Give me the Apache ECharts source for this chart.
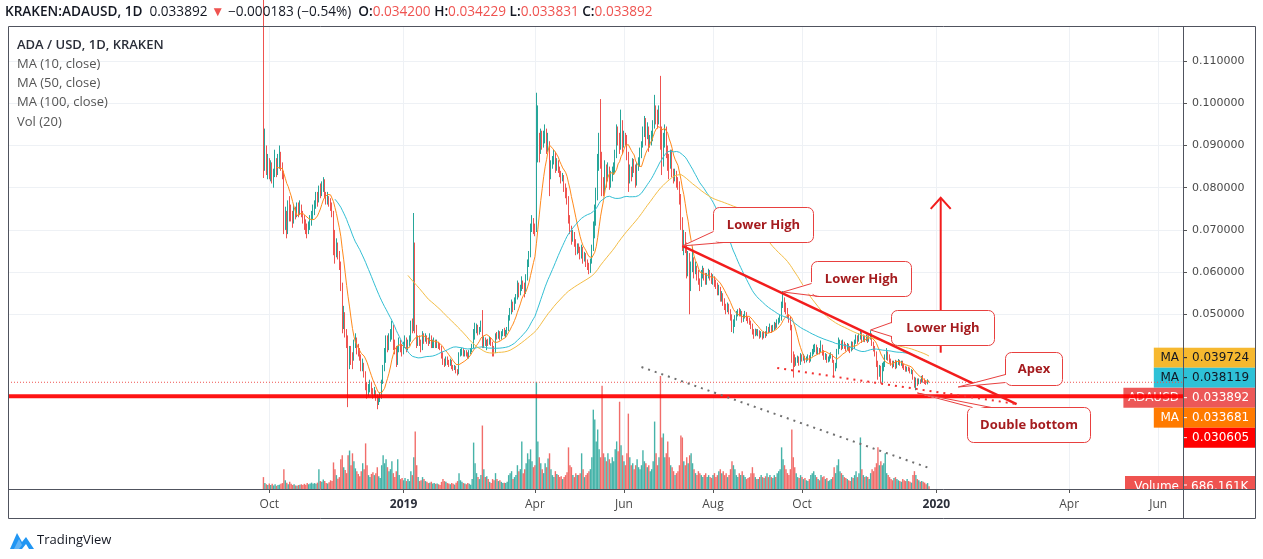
<!DOCTYPE html>
<html>
<head>
<meta charset="utf-8">
<script src="https://cdn.jsdelivr.net/npm/echarts@6/dist/echarts.min.js"></script>
<style>
html,body{margin:0;padding:0;background:#fff;}
#chart{width:1263px;height:559px;}
</style>
</head>
<body>
<div id="chart"></div>
<script>
// ---------------- DATA ----------------
const startDate = '2018-09-27';          // first daily candle
const viewStart = '2018-04-05';          // left edge of visible time range
const viewEnd = '2020-06-18';            // right edge of visible time range

const tickDates = ['2018-10-01','2019-01-01','2019-04-01','2019-06-01','2019-08-01','2019-10-01','2020-01-01','2020-04-01','2020-06-01'];
const tickLabels = ['Oct','2019','Apr','Jun','Aug','Oct','2020','Apr','Jun'];
const priceTicks = [0.05,0.06,0.07,0.08,0.09,0.10,0.11];

const open = [
.118,.085,.089,.0845,
.086,.0835,.085,.082,.083,.086,.084,.0855,.0875,.085,.0835,.072,.0735,.070,.0755,.0745,.0735,.072,.0745,.0735,.075,.074,.0755,.074,.0725,.0715,.0705,.0695,.071,.072,.0735,
.0745,.076,.0775,.077,.0795,.079,.0805,.0815,.0785,.077,.0775,.0765,.076,.074,.0665,.065,.0665,.064,.062,.057,.048,.050,.0455,.044,.0395,.041,.040,.0395,.043,.044,
.042,.041,.040,.0375,.038,.036,.033,.0315,.0325,.033,.032,.031,.0318,.0302,.0293,.0298,.0305,.034,.037,.039,.044,.042,.0445,.045,.047,.0425,.042,.0385,.0415,.043,.042,
.041,.0425,.044,.042,.043,.044,.047,.0465,.048,.0465,.043,.044,.0435,.042,.045,.044,.0445,.044,.0432,.0445,.0425,.043,.0435,.0425,.043,.0425,.042,.0405,.039,.0382,.0395,
.0388,.0382,.0388,.0375,.0372,.0374,.0366,.0362,.0405,.041,.0415,.0405,.041,.0405,.040,.041,.0415,.0425,.0455,.0465,.047,.0455,.0462,.048,.0425,.044,.0432,.0435,
.043,.044,.0432,.0418,.041,.045,.0448,.0455,.0445,.0455,.046,.0452,.0458,.0462,.049,.0505,.0525,.0515,.053,.054,.057,.055,.056,.0575,.057,.055,.0585,.062,.064,.070,.072,
.0705,.070,.088,.0915,.089,.0925,.0905,.092,.0935,.0895,.0905,.084,.0855,.0865,.088,.0845,.086,.0845,.0835,.082,.0825,.080,.079,.077,.0725,.070,.068,.069,.067,.065,
.066,.0655,.064,.065,.063,.064,.062,.0615,.061,.0625,.0655,.070,.0725,.078,.085,.0895,.087,.081,.079,.085,.083,.0845,.081,.0825,.0835,.0845,.0875,.093,.092,.090,.095,
.091,.092,.0915,.088,.082,.084,.083,.086,.085,.081,.085,.086,.088,.090,.093,.095,.093,.094,.090,.091,.092,.095,.0985,.0975,.096,.098,.093,.086,.091,.0935,
.0885,.087,.085,.088,.0835,.082,.083,.0815,.081,.0775,.072,.0665,.069,.066,.060,.064,.0575,.0615,.062,.060,.061,.0595,.058,.057,.0595,.0605,.059,.058,.059,.060,.0585,
.058,.0585,.0575,.057,.0555,.056,.054,.0545,.053,.052,.051,.052,.0508,.0495,.047,.048,.049,.050,.0505,.050,.0505,.049,.0495,.050,.049,.0485,.048,.0472,.046,.0455,.046,
.0455,.0458,.045,.0455,.0448,.0455,.045,.0465,.0462,.047,.0462,.0468,.0475,.0472,.048,.0485,.049,.052,.053,.0522,.051,.0495,.049,.047,.0405,.0395,.0385,.039,.0395,.0385,
.040,.0395,.040,.039,.0395,.040,.0392,.0405,.041,.0418,.042,.041,.0415,.0412,.0425,.041,.0398,.0402,.0392,.0395,.040,.0402,.039,.0372,.0378,.041,.0425,.0432,.042,.0432,.0425,
.042,.0425,.042,.0415,.043,.0422,.0435,.0445,.0438,.0448,.0455,.044,.0446,.044,.0445,.0438,.0444,.045,.0432,.042,.041,.0385,.036,.0372,.035,.0375,.038,.0398,.0405,.0402,
.039,.0385,.038,.0384,.0376,.0385,.0388,.0384,.0386,.0378,.0374,.037,.0372,.037,.0364,.0366,.035,.0332,.0345,.0338,.0343,.034,.035,.0344,.034,.0337,.0342
];

const close = [
.085,.089,.0845,.086,
.0835,.085,.082,.083,.086,.084,.0855,.0875,.085,.0835,.072,.0735,.070,.0755,.0745,.0735,.072,.0745,.0735,.075,.074,.0755,.074,.0725,.0715,.0705,.0695,.071,.072,.0735,.0745,
.076,.0775,.077,.0795,.079,.0805,.0815,.0785,.077,.0775,.0765,.076,.074,.0665,.065,.0665,.064,.062,.057,.048,.050,.0455,.044,.0395,.041,.040,.0395,.043,.044,.042,
.041,.040,.0375,.038,.036,.033,.0315,.0325,.033,.032,.031,.0318,.0302,.0293,.0298,.0305,.034,.037,.039,.044,.042,.0445,.045,.047,.0425,.042,.0385,.0415,.043,.042,.041,
.0425,.044,.042,.043,.044,.047,.0465,.048,.0465,.043,.044,.0435,.042,.045,.044,.0445,.044,.0432,.0445,.0425,.043,.0435,.0425,.043,.0425,.042,.0405,.039,.0382,.0395,.0388,
.0382,.0388,.0375,.0372,.0374,.0366,.0362,.0405,.041,.0415,.0405,.041,.0405,.040,.041,.0415,.0425,.0455,.0465,.047,.0455,.0462,.048,.0425,.044,.0432,.0435,.043,
.044,.0432,.0418,.041,.045,.0448,.0455,.0445,.0455,.046,.0452,.0458,.0462,.049,.0505,.0525,.0515,.053,.054,.057,.055,.056,.0575,.057,.055,.0585,.062,.064,.070,.072,.0705,
.070,.088,.0915,.089,.0925,.0905,.092,.0935,.0895,.0905,.084,.0855,.0865,.088,.0845,.086,.0845,.0835,.082,.0825,.080,.079,.077,.0725,.070,.068,.069,.067,.065,.066,
.0655,.064,.065,.063,.064,.062,.0615,.061,.0625,.0655,.070,.0725,.078,.085,.0895,.087,.081,.079,.085,.083,.0845,.081,.0825,.0835,.0845,.0875,.093,.092,.090,.095,.091,
.092,.0915,.088,.082,.084,.083,.086,.085,.081,.085,.086,.088,.090,.093,.095,.093,.094,.090,.091,.092,.095,.0985,.0975,.096,.098,.093,.086,.091,.0935,.0885,
.087,.085,.088,.0835,.082,.083,.0815,.081,.0775,.072,.0665,.069,.066,.060,.064,.0575,.0615,.062,.060,.061,.0595,.058,.057,.0595,.0605,.059,.058,.059,.060,.0585,.058,
.0585,.0575,.057,.0555,.056,.054,.0545,.053,.052,.051,.052,.0508,.0495,.047,.048,.049,.050,.0505,.050,.0505,.049,.0495,.050,.049,.0485,.048,.0472,.046,.0455,.046,.0455,
.0458,.045,.0455,.0448,.0455,.045,.0465,.0462,.047,.0462,.0468,.0475,.0472,.048,.0485,.049,.052,.053,.0522,.051,.0495,.049,.047,.0405,.0395,.0385,.039,.0395,.0385,.040,
.0395,.040,.039,.0395,.040,.0392,.0405,.041,.0418,.042,.041,.0415,.0412,.0425,.041,.0398,.0402,.0392,.0395,.040,.0402,.039,.0372,.0378,.041,.0425,.0432,.042,.0432,.0425,.042,
.0425,.042,.0415,.043,.0422,.0435,.0445,.0438,.0448,.0455,.044,.0446,.044,.0445,.0438,.0444,.045,.0432,.042,.041,.0385,.036,.0372,.035,.0375,.038,.0398,.0405,.0402,.039,
.0385,.038,.0384,.0376,.0385,.0388,.0384,.0386,.0378,.0374,.037,.0372,.037,.0364,.0366,.035,.0332,.0345,.0338,.0343,.034,.035,.0344,.034,.0337,.0342,.033892
];

const high = [
.130,.094,.090,.088,
.087,.0865,.086,.0845,.089,.087,.088,.090,.0885,.086,.084,.0755,.0745,.077,.078,.076,.0745,.076,.0755,.0765,.0765,.077,.076,.0745,.0735,.0725,.0715,.072,.0735,.0745,.076,
.077,.079,.079,.0805,.081,.0815,.0825,.082,.079,.079,.078,.0775,.0765,.0745,.070,.068,.067,.065,.0625,.0575,.052,.0505,.0465,.045,.0425,.0425,.041,.044,.0455,.0445,
.043,.042,.0405,.0395,.0385,.0365,.034,.0335,.0345,.034,.0325,.0328,.032,.031,.0305,.0315,.0345,.038,.042,.045,.045,.0455,.0465,.0485,.0475,.044,.0425,.0425,.0445,.044,.043,
.0435,.045,.0445,.044,.045,.0485,.049,.074,.067,.0475,.045,.045,.044,.046,.0455,.0455,.045,.0445,.0455,.045,.044,.0445,.044,.044,.0435,.0432,.0425,.041,.0395,.040,.040,
.0392,.0395,.0392,.038,.038,.0378,.037,.041,.0418,.042,.042,.0415,.0415,.041,.0415,.042,.043,.0465,.048,.0478,.0475,.047,.0485,.051,.0448,.0445,.044,.0442,
.0448,.0445,.0435,.0425,.0455,.0458,.0462,.046,.046,.0465,.0468,.0463,.047,.0498,.0515,.0535,.053,.054,.0548,.058,.0575,.057,.059,.058,.0575,.0595,.063,.065,.0715,.0735,.0728,
.0715,.1025,.0995,.093,.094,.0935,.0935,.095,.094,.093,.091,.0865,.0875,.089,.0885,.087,.0865,.085,.084,.0835,.083,.081,.080,.078,.0735,.071,.070,.0695,.0678,.0668,
.0668,.066,.0665,.066,.0648,.0645,.063,.0622,.0632,.0665,.072,.076,.080,.088,.093,.101,.0885,.0825,.0865,.0855,.086,.085,.084,.085,.086,.089,.095,.0945,.093,.0985,.096,
.0935,.093,.0925,.0885,.0855,.085,.087,.0868,.0855,.086,.0872,.0895,.091,.0945,.097,.0965,.0955,.0945,.0925,.0935,.096,.102,.0995,.0985,.0995,.1065,.0945,.093,.095,.0945,
.090,.088,.089,.089,.0845,.0845,.084,.0825,.0815,.0785,.073,.070,.0695,.067,.065,.0645,.0625,.066,.0635,.0625,.0615,.0605,.0585,.0605,.0615,.061,.0598,.0598,.0608,.0605,.0598,
.0595,.059,.0582,.0575,.057,.0565,.0555,.055,.0538,.0525,.0528,.0525,.0512,.050,.0488,.0498,.0508,.0512,.0515,.0512,.0508,.050,.0508,.0505,.0495,.0492,.0485,.0478,.0465,.0466,.0465,
.0465,.0462,.046,.0458,.046,.046,.0472,.047,.0478,.0474,.0475,.0482,.048,.0488,.0492,.0498,.053,.0555,.054,.0528,.0515,.050,.0495,.0475,.0412,.0405,.0398,.0402,.040,.0408,
.0405,.0406,.0402,.040,.0405,.0403,.041,.0418,.0428,.043,.0428,.0422,.042,.0438,.0428,.0415,.0408,.0406,.040,.0405,.041,.0405,.0392,.0385,.0418,.0445,.044,.0438,.044,.0435,.043,
.0432,.043,.0425,.0436,.0435,.044,.0452,.045,.0455,.0465,.0458,.0452,.045,.0452,.045,.045,.0462,.0455,.0435,.0425,.0412,.039,.038,.0378,.0385,.0388,.0405,.042,.0412,.0405,
.0395,.039,.039,.0392,.039,.0394,.0392,.039,.039,.0382,.0378,.0376,.0376,.0374,.037,.0368,.0352,.035,.0348,.0348,.0346,.0354,.0356,.0348,.0342,.0346,.034229
];

const low = [
.0823,.084,.083,.082,
.082,.0815,.081,.080,.0825,.0825,.083,.0845,.084,.082,.069,.070,.068,.069,.072,.072,.0705,.0715,.0725,.073,.073,.0735,.073,.0715,.070,.069,.068,.069,.070,.071,.0725,
.0735,.075,.0755,.0765,.0775,.078,.079,.0775,.076,.076,.0755,.0745,.073,.064,.062,.0635,.063,.0605,.0555,.0455,.0465,.0445,.042,.028,.037,.038,.037,.039,.042,.0405,
.040,.039,.0365,.0365,.035,.032,.030,.0305,.0315,.031,.030,.0305,.0295,.0275,.0285,.0292,.030,.0335,.0365,.0385,.041,.0415,.0435,.044,.0415,.0405,.0375,.038,.041,.041,.040,
.0405,.042,.041,.0415,.0425,.0435,.0455,.046,.0455,.042,.0425,.0425,.041,.0415,.043,.0435,.043,.0425,.043,.042,.042,.042,.042,.042,.0418,.0415,.0395,.038,.0375,.0378,.038,
.0375,.0378,.037,.0366,.0368,.036,.0355,.0358,.040,.0402,.040,.040,.040,.0395,.0395,.0405,.041,.042,.044,.0455,.045,.0452,.0458,.042,.042,.0425,.0415,.0425,
.0428,.0425,.040,.040,.0408,.044,.0442,.0438,.044,.0448,.0448,.0445,.0452,.046,.0485,.050,.0505,.051,.0525,.0535,.054,.0545,.0555,.056,.054,.0548,.058,.0612,.0635,.0695,.069,
.0685,.0695,.086,.086,.088,.089,.0895,.0905,.088,.0885,.078,.082,.0845,.0855,.0835,.084,.0835,.0825,.081,.0815,.079,.0775,.076,.0715,.069,.0665,.0672,.066,.064,.0642,
.0645,.063,.0632,.062,.0625,.0612,.0605,.0595,.0598,.062,.065,.068,.071,.077,.084,.0845,.078,.078,.0785,.080,.0815,.0795,.080,.0815,.083,.0835,.087,.090,.088,.089,.088,
.0895,.090,.0865,.079,.081,.0815,.0825,.0835,.080,.0805,.084,.085,.087,.0895,.092,.090,.0915,.0885,.0895,.090,.091,.094,.095,.094,.095,.089,.083,.085,.0895,.087,
.084,.082,.0845,.0825,.081,.0815,.080,.0795,.076,.070,.065,.064,.0645,.0585,.059,.050,.0555,.060,.0585,.0595,.058,.057,.0555,.0565,.0585,.058,.057,.057,.0585,.058,.0572,
.057,.0565,.056,.0545,.0545,.053,.053,.052,.051,.050,.0505,.050,.0485,.0458,.0455,.047,.0485,.0495,.0495,.0495,.048,.0482,.049,.0484,.0478,.0475,.0465,.0452,.0442,.0448,.045,
.0448,.0442,.0445,.044,.0443,.0444,.0448,.0455,.0458,.0456,.0458,.0462,.0465,.0468,.0476,.048,.0485,.0515,.0505,.050,.049,.048,.0462,.0385,.035,.0375,.0378,.0385,.0378,.038,
.0388,.039,.0384,.0386,.039,.0385,.0388,.040,.0405,.041,.0405,.0405,.0405,.041,.0402,.0392,.0392,.0385,.0386,.0388,.0395,.0385,.035,.0365,.0372,.0405,.0418,.0415,.0418,.0418,.0412,
.0415,.0412,.0408,.0412,.0415,.0418,.043,.043,.0435,.044,.0432,.0435,.0434,.0436,.0432,.0435,.044,.0425,.0412,.040,.0375,.0345,.0352,.0336,.0338,.0365,.0375,.0392,.039,.0385,
.0378,.0372,.0375,.037,.0372,.038,.0378,.0378,.0372,.0368,.0364,.0364,.0365,.036,.0358,.0345,.0326,.032,.033,.0334,.0335,.0338,.0338,.0335,.0333,.0334,.033831
];

// daily volume, millions of ADA
const volume = [
3.0,1.5,1.2,1.0,
1.4,1.0,1.3,0.9,1.2,0.8,1.0,1.1,1.3,1.5,5.0,2.2,1.6,1.2,1.8,1.3,1.0,1.2,0.9,0.8,1.0,1.1,1.2,1.0,1.3,1.1,1.5,1.2,1.4,1.6,1.3,
1.5,1.3,1.6,5.0,2.0,1.8,2.4,2.0,1.5,1.4,1.7,2.2,2.0,6.7,5.0,3.5,2.6,3.0,7.5,8.5,5.5,4.8,4.0,8.5,9.7,6.0,9.0,7.0,5.2,4.5,
3.8,3.2,4.5,6.5,5.0,11.5,6.0,3.5,3.0,3.8,4.2,3.5,4.0,5.5,3.2,2.8,6.0,8.5,6.5,7.5,5.5,4.5,5.0,7.0,4.0,3.0,4.5,7.5,3.5,2.5,2.8,
2.2,2.8,2.0,2.5,2.0,4.5,3.5,8.0,14.5,6.0,3.0,2.0,2.2,3.0,2.5,2.0,1.8,1.5,1.6,1.8,1.4,1.5,1.3,1.4,1.2,1.0,1.8,2.5,2.0,1.8,1.5,
1.4,1.2,1.5,1.3,1.1,1.6,2.0,4.0,2.2,1.8,1.5,1.4,1.2,1.5,1.3,1.1,2.5,11.7,6.5,4.0,3.0,2.5,3.5,16.0,5.0,3.0,3.2,2.5,
1.8,1.5,2.5,2.2,4.0,2.5,2.0,2.2,1.8,1.5,1.6,1.5,1.8,3.5,4.0,4.5,2.5,3.0,3.5,6.0,4.5,5.0,12.0,4.0,5.0,6.5,9.0,7.5,10.0,7.0,5.5,
6.0,27.0,12.0,8.0,6.5,5.0,4.0,6.5,5.5,7.7,9.0,5.0,3.5,3.0,4.5,3.8,3.5,3.0,3.2,2.5,3.0,3.5,4.2,10.5,6.0,5.5,3.5,3.0,4.0,3.5,
3.5,4.0,9.0,5.0,3.0,3.5,4.0,4.5,5.0,8.0,20.0,17.5,12.0,15.0,10.0,8.0,26.0,9.0,8.0,7.0,9.0,7.5,6.5,8.0,7.0,10.0,12.0,9.5,22.0,11.0,8.5,
7.0,6.0,9.0,19.0,8.0,6.0,6.5,5.0,6.0,7.5,5.5,5.0,6.0,9.8,7.0,6.5,5.5,6.0,4.5,5.0,7.0,17.0,9.0,6.0,8.0,28.5,13.0,14.0,8.0,9.0,
12.0,8.0,6.0,5.5,4.5,3.5,4.0,4.5,6.0,13.5,13.0,7.0,6.0,8.0,6.5,8.5,9.0,6.5,5.0,4.0,3.5,4.5,4.0,3.5,3.0,3.5,4.0,3.0,3.5,3.0,2.8,
3.5,4.0,3.0,3.5,4.5,5.0,4.0,4.5,3.5,4.0,3.0,3.5,5.0,7.0,6.0,5.0,3.5,3.0,4.0,3.5,4.5,3.5,3.0,2.5,2.8,3.0,4.0,5.5,4.0,3.0,2.5,
2.5,3.0,3.5,3.0,2.8,3.2,4.0,3.0,3.5,3.0,2.8,3.5,3.0,4.0,4.5,5.0,10.5,7.5,6.0,5.0,4.0,3.5,5.0,15.0,8.0,5.5,4.0,3.0,2.8,3.5,
3.0,2.5,2.8,2.2,2.0,2.5,3.5,4.0,4.5,3.5,3.0,2.5,2.2,3.5,3.0,3.2,2.5,2.8,2.0,2.2,2.5,3.0,5.5,4.0,6.0,7.5,4.5,4.0,3.5,3.0,2.8,
2.5,2.2,2.0,3.0,2.8,3.5,4.5,3.0,4.0,13.0,5.0,3.5,3.0,3.2,3.0,2.5,4.0,5.0,4.5,5.5,6.5,10.5,6.0,7.0,6.0,6.5,9.0,4.0,3.5,3.0,
2.5,2.2,2.8,3.0,2.5,2.2,2.0,1.8,2.5,2.2,2.0,2.5,2.0,1.8,1.6,3.5,4.5,3.5,2.5,2.2,1.8,2.0,1.8,1.6,1.2,1.5,0.686161
];

// header / legend texts
const symbolTitle = 'KRAKEN:ADAUSD, 1D';
const lastPrice = '0.033892';
const changeText = '−0.000183 (−0.54%)';
const ohlcKeys = ['O','H','L','C'];
const ohlcVals = ['0.034200','0.034229','0.033831','0.033892'];
const legendLines = ['ADA / USD, 1D, KRAKEN','MA (10, close)','MA (50, close)','MA (100, close)','Vol (20)'];
const maPeriods = [10, 50, 100];

// price-scale tags (right axis)
const tagNames = ['MA','MA','ADAUSD','MA',''];
const tagValues = [0.039724, 0.038119, 0.033892, 0.033681, 0.030605];
const volumeTag = ['Volume','686.161K'];

// drawings (time, price)
const hLevel = 0.030605;
const trendLine = [['2019-07-11',0.0662],['2020-02-25',0.02874]];
const supportLine = [['2019-09-14',0.03727],['2020-02-25',0.02874]];
const greyLine = [['2019-06-13',0.0375],['2019-12-27',0.01358]];
const arrowLine = [['2020-01-04',0.0409],['2020-01-04',0.0776]];
const calloutTexts = ['Lower High','Lower High','Lower High','Apex','Double bottom'];
const calloutTips = [['2019-07-11',0.0662],['2019-09-18',0.05528],['2019-11-17',0.04628],['2020-01-16',0.03277],['2019-12-19',0.03135]];
const calloutBoxes = [['2019-08-01',0.07545],['2019-10-07',0.06263],['2019-12-01',0.05102],['2020-02-17',0.04107],['2020-01-22',0.02803]];

// ---------------- CHART ----------------
const UP = '#26a69a', DN = '#ef5350';
const MA_COLORS = ['#ff8a1c', '#33bfd4', '#f4bd45'];
const FONT = '"Open Sans", "DejaVu Sans", sans-serif';
const chart = echarts.init(document.getElementById('chart'), null, {renderer: 'canvas'});
const t0 = Date.parse(startDate);
const dayOf = s => Math.round((Date.parse(s) - t0) / 86400000);
const tickDays = tickDates.map(dayOf);
const xMin = dayOf(viewStart), xMax = dayOf(viewEnd);
const PMIN = 0.0086, PMAX = 0.11808;

const candles = close.map((c, i) => [i, open[i], c, low[i], high[i]]);
const volData = volume.map((v, i) => ({value: [i, v], itemStyle: {color: close[i] >= open[i] ? 'rgba(38,166,154,0.85)' : 'rgba(239,83,80,0.85)'}}));
function movingAverage(p) {
  const out = [];
  for (let i = p - 1; i < close.length; i++) {
    let s = 0;
    for (let j = i - p + 1; j <= i; j++) s += close[j];
    out.push([i, s / p]);
  }
  return out;
}
const xLabel = v => {
  const i = tickDays.indexOf(Math.round(v));
  if (i < 0) return '';
  return /^\d{4}$/.test(tickLabels[i]) ? '{y|' + tickLabels[i] + '}' : tickLabels[i];
};

const option = {
  animation: false,
  backgroundColor: '#ffffff',
  textStyle: {fontFamily: FONT},
  grid: [
    {left: 8, right: 80, top: 27, bottom: 70},
    {left: 8, right: 80, top: 370, bottom: 70}
  ],
  xAxis: [
    {
      type: 'value', gridIndex: 0, min: xMin, max: xMax,
      axisLine: {show: false, onZero: false},
      axisTick: {show: true, customValues: tickDays, length: 4, lineStyle: {color: '#555'}},
      axisLabel: {customValues: tickDays, formatter: xLabel, margin: 10, color: '#4a4a4a', fontSize: 12, fontFamily: FONT,
        rich: {y: {fontWeight: 'bold', color: '#2a2e39', fontSize: 12, fontFamily: FONT}}},
      splitLine: {show: true, lineStyle: {color: '#eef1f5', width: 1}}
    },
    {type: 'value', gridIndex: 1, min: xMin, max: xMax, show: false, axisLine: {onZero: false}}
  ],
  yAxis: [
    {
      type: 'value', gridIndex: 0, position: 'right', min: PMIN, max: PMAX,
      axisLine: {show: false, onZero: false},
      axisTick: {show: true, customValues: priceTicks, length: 4, lineStyle: {color: '#555'}},
      axisLabel: {customValues: priceTicks, formatter: v => v.toFixed(6), margin: 9, color: '#4a4a4a', fontSize: 11, fontFamily: '"DejaVu Sans", sans-serif'},
      splitLine: {show: true, lineStyle: {color: '#eef1f5', width: 1}}
    },
    {type: 'value', gridIndex: 1, min: 0, max: 30, show: false, axisLine: {onZero: false}}
  ],
  series: [
    {
      type: 'bar', name: 'Volume', xAxisIndex: 1, yAxisIndex: 1, data: volData, barWidth: 1.4, z: 1, silent: true
    },
    {
      type: 'candlestick', name: 'ADAUSD', xAxisIndex: 0, yAxisIndex: 0, data: candles,
      encode: {x: 0, y: [1, 2, 3, 4]}, barWidth: 0.7, clip: true, z: 3,
      itemStyle: {color: UP, color0: DN, borderColor: UP, borderColor0: DN, borderWidth: 1}
    },
    ...maPeriods.map((p, k) => ({
      type: 'line', name: 'MA' + p, xAxisIndex: 0, yAxisIndex: 0, data: movingAverage(p),
      showSymbol: false, symbol: 'none', z: 4, silent: true,
      lineStyle: {color: MA_COLORS[k], width: 1}
    }))
  ]
};
chart.setOption(option);

// ---------------- DRAWINGS / OVERLAYS ----------------
const px = a => chart.convertToPixel({gridIndex: 0}, [typeof a[0] === 'string' ? dayOf(a[0]) : a[0], a[1]]);
const G = [];
function seg(a, b, style, z) {
  const p1 = px(a), p2 = px(b);
  G.push({type: 'line', silent: true, z: z, shape: {x1: p1[0], y1: p1[1], x2: p2[0], y2: p2[1]}, style: style});
}
const AXIS_X = px([xMax, PMIN])[0];   // price axis x
const AXIS_Y = px([xMin, PMIN])[1];   // time axis y
const TOP_Y = px([xMin, PMAX])[1];

// price tags on right axis
const tagStyle = [
  {bg: '#f6b82f', fg: '#131722'},
  {bg: '#2ec1d7', fg: '#131722'},
  {bg: '#ec5858', fg: '#ffffff'},
  {bg: '#ff7a00', fg: '#ffffff'},
  {bg: '#ff0000', fg: '#ffffff'}
];
let prevY = -1e9;
tagValues.forEach((v, i) => {
  let y = px([0, v])[1];
  if (y < prevY + 20) y = prevY + 20;
  prevY = y;
  const st = tagStyle[i];
  const name = tagNames[i];
  if (name) {
    const w = name.length * 7.6 + 14;
    G.push({type: 'rect', z: 30, silent: true, shape: {x: AXIS_X - w, y: y - 10, width: w, height: 20}, style: {fill: st.bg}});
    G.push({type: 'text', z: 31, silent: true, x: AXIS_X - 4, y: y, style: {text: name, fill: st.fg, font: '12px "DejaVu Sans"', align: 'right', verticalAlign: 'middle'}});
  }
  G.push({type: 'rect', z: 30, silent: true, shape: {x: AXIS_X, y: y - 10, width: 73, height: 20}, style: {fill: st.bg}});
  G.push({type: 'line', z: 31, silent: true, shape: {x1: AXIS_X, y1: y, x2: AXIS_X + 4, y2: y}, style: {stroke: st.fg, lineWidth: 1}});
  G.push({type: 'text', z: 31, silent: true, x: AXIS_X + 9, y: y, style: {text: v.toFixed(6), fill: st.fg, font: '12px "DejaVu Sans"', align: 'left', verticalAlign: 'middle'}});
});
// volume tag (bottom cut off by the time axis)
G.push({type: 'rect', z: 30, silent: true, shape: {x: AXIS_X - 58, y: AXIS_Y - 13, width: 58, height: 13}, style: {fill: '#ef5350'}});
G.push({type: 'rect', z: 30, silent: true, shape: {x: AXIS_X, y: AXIS_Y - 13, width: 73, height: 13}, style: {fill: '#ef5350'}});
G.push({type: 'text', z: 31, silent: true, x: AXIS_X - 4, y: AXIS_Y - 2, style: {text: volumeTag[0], fill: '#fff', font: '12px "DejaVu Sans"', align: 'right', verticalAlign: 'middle'}});
G.push({type: 'text', z: 31, silent: true, x: AXIS_X + 8, y: AXIS_Y - 2, style: {text: volumeTag[1], fill: '#fff', font: '12px "DejaVu Sans"', align: 'left', verticalAlign: 'middle'}});
G.push({type: 'line', z: 31, silent: true, shape: {x1: AXIS_X, y1: AXIS_Y - 4, x2: AXIS_X + 4, y2: AXIS_Y - 4}, style: {stroke: '#fff', lineWidth: 1}});
G.push({type: 'rect', z: 70, silent: true, shape: {x: AXIS_X - 60, y: AXIS_Y + 0.5, width: 135, height: 6}, style: {fill: '#fff'}});

// horizontal levels
seg([xMin, hLevel], [xMax, hLevel], {stroke: 'rgba(255,0,0,0.92)', lineWidth: 4}, 35);
seg([xMin, Number(lastPrice)], [xMax, Number(lastPrice)], {stroke: '#ef5350', lineWidth: 1, lineDash: [1, 2]}, 34);

// trend / wedge lines
seg(trendLine[0], trendLine[1], {stroke: '#f21d1d', lineWidth: 2.5}, 40);
seg(supportLine[0], supportLine[1], {stroke: '#f23030', lineWidth: 2, lineDash: [2, 5]}, 40);
seg(greyLine[0], greyLine[1], {stroke: '#707070', lineWidth: 2, lineDash: [2, 5]}, 40);

// vertical arrow
seg(arrowLine[0], arrowLine[1], {stroke: '#f21d1d', lineWidth: 2}, 40);
(() => {
  const t = px(arrowLine[1]);
  G.push({type: 'polyline', z: 40, silent: true, shape: {points: [[t[0] - 10, t[1] + 11], [t[0], t[1]], [t[0] + 10, t[1] + 11]]}, style: {stroke: '#f21d1d', lineWidth: 2, fill: null}});
})();

// callouts
const boxSizes = [[100, 35], [100, 35], [103, 35], [57, 33], [123, 35]];
const wedgeBases = [[[0, 24], [10, 35]], [[0, 22], [8, 35]], [[0, 12], [0, 26]], [[0, 22], [0, 30]], [[5, 0], [24, 0]]];
const wedgeInward = [[2, -2], [2, -2], [2, 0], [2, 0], [0, 2]];
const CALL_RED = '#e8403f';
calloutTexts.forEach((txt, i) => {
  const b = px(calloutBoxes[i]);
  const bx = Math.round(b[0]) + 0.5, by = Math.round(b[1]) + 0.5;
  const t = px(calloutTips[i]);
  const [w, h] = boxSizes[i];
  const b1 = [bx + wedgeBases[i][0][0], by + wedgeBases[i][0][1]];
  const b2 = [bx + wedgeBases[i][1][0], by + wedgeBases[i][1][1]];
  const inw = wedgeInward[i];
  G.push({type: 'rect', z: 50, silent: true, shape: {x: bx, y: by, width: w, height: h, r: 6}, style: {fill: '#fff', stroke: CALL_RED, lineWidth: 1}});
  G.push({type: 'polygon', z: 51, silent: true, shape: {points: [[b1[0] + inw[0], b1[1] + inw[1]], t, [b2[0] + inw[0], b2[1] + inw[1]]]}, style: {fill: '#fff'}});
  G.push({type: 'polyline', z: 52, silent: true, shape: {points: [b1, t, b2]}, style: {stroke: CALL_RED, lineWidth: 1, fill: null}});
  G.push({type: 'text', z: 53, silent: true, x: bx + w / 2, y: by + h / 2, style: {text: txt, fill: '#a51c1f', font: 'bold 13px "Open Sans"', align: 'center', verticalAlign: 'middle'}});
});

// frame & axis separators
G.push({type: 'rect', z: 80, silent: true, shape: {x: 8.5, y: TOP_Y - 0.5, width: 1247, height: 492}, style: {fill: null, stroke: '#50535e', lineWidth: 1}});
G.push({type: 'line', z: 80, silent: true, shape: {x1: 8.5, y1: Math.round(AXIS_Y) + 0.5, x2: 1255.5, y2: Math.round(AXIS_Y) + 0.5}, style: {stroke: '#50535e', lineWidth: 1}});
G.push({type: 'line', z: 80, silent: true, shape: {x1: Math.round(AXIS_X) + 0.5, y1: TOP_Y, x2: Math.round(AXIS_X) + 0.5, y2: TOP_Y + 492}, style: {stroke: '#50535e', lineWidth: 1}});

// header line
const hdr = '{b|' + symbolTitle + '}  {n|' + lastPrice + '} {r|▼} {n|' + changeText + '}  ' +
  ohlcKeys.map((k, i) => '{b|' + k + ':}{r|' + ohlcVals[i] + '}').join(' ');
G.push({type: 'text', z: 90, silent: true, x: 5, y: 12, style: {
  text: hdr, verticalAlign: 'middle', font: '13.6px "Open Sans"',
  rich: {
    b: {fontFamily: 'Open Sans', fontSize: 13.6, fontWeight: 600, fill: '#131722'},
    n: {fontFamily: 'Open Sans', fontSize: 13.6, fill: '#131722'},
    r: {fontFamily: 'Open Sans', fontSize: 13.6, fill: '#ef5350'}
  }
}});

// legend block
legendLines.forEach((s, i) => {
  G.push({type: 'text', z: 90, silent: true, x: 17, y: 45 + i * 19.2, style: {
    text: s, verticalAlign: 'middle', fill: i === 0 ? '#2a2e39' : '#555',
    font: (i === 0 ? '600 ' : '') + '13px "Open Sans"'
  }});
});

// TradingView footer
G.push({type: 'polygon', z: 90, silent: true, shape: {points: [[10, 549], [17, 533], [22, 542], [26, 537], [34, 549], [29, 549], [26, 544], [22, 549]]}, style: {fill: '#2196f3'}});
G.push({type: 'polygon', z: 91, silent: true, shape: {points: [[14, 549], [19, 539], [22, 545], [19, 549]]}, style: {fill: '#64b5f6'}});
G.push({type: 'text', z: 90, silent: true, x: 37, y: 540, style: {text: 'TradingView', fill: '#131722', font: '13px "Open Sans"', verticalAlign: 'middle'}});

chart.setOption({graphic: {elements: G}});
</script>
</body>
</html>
